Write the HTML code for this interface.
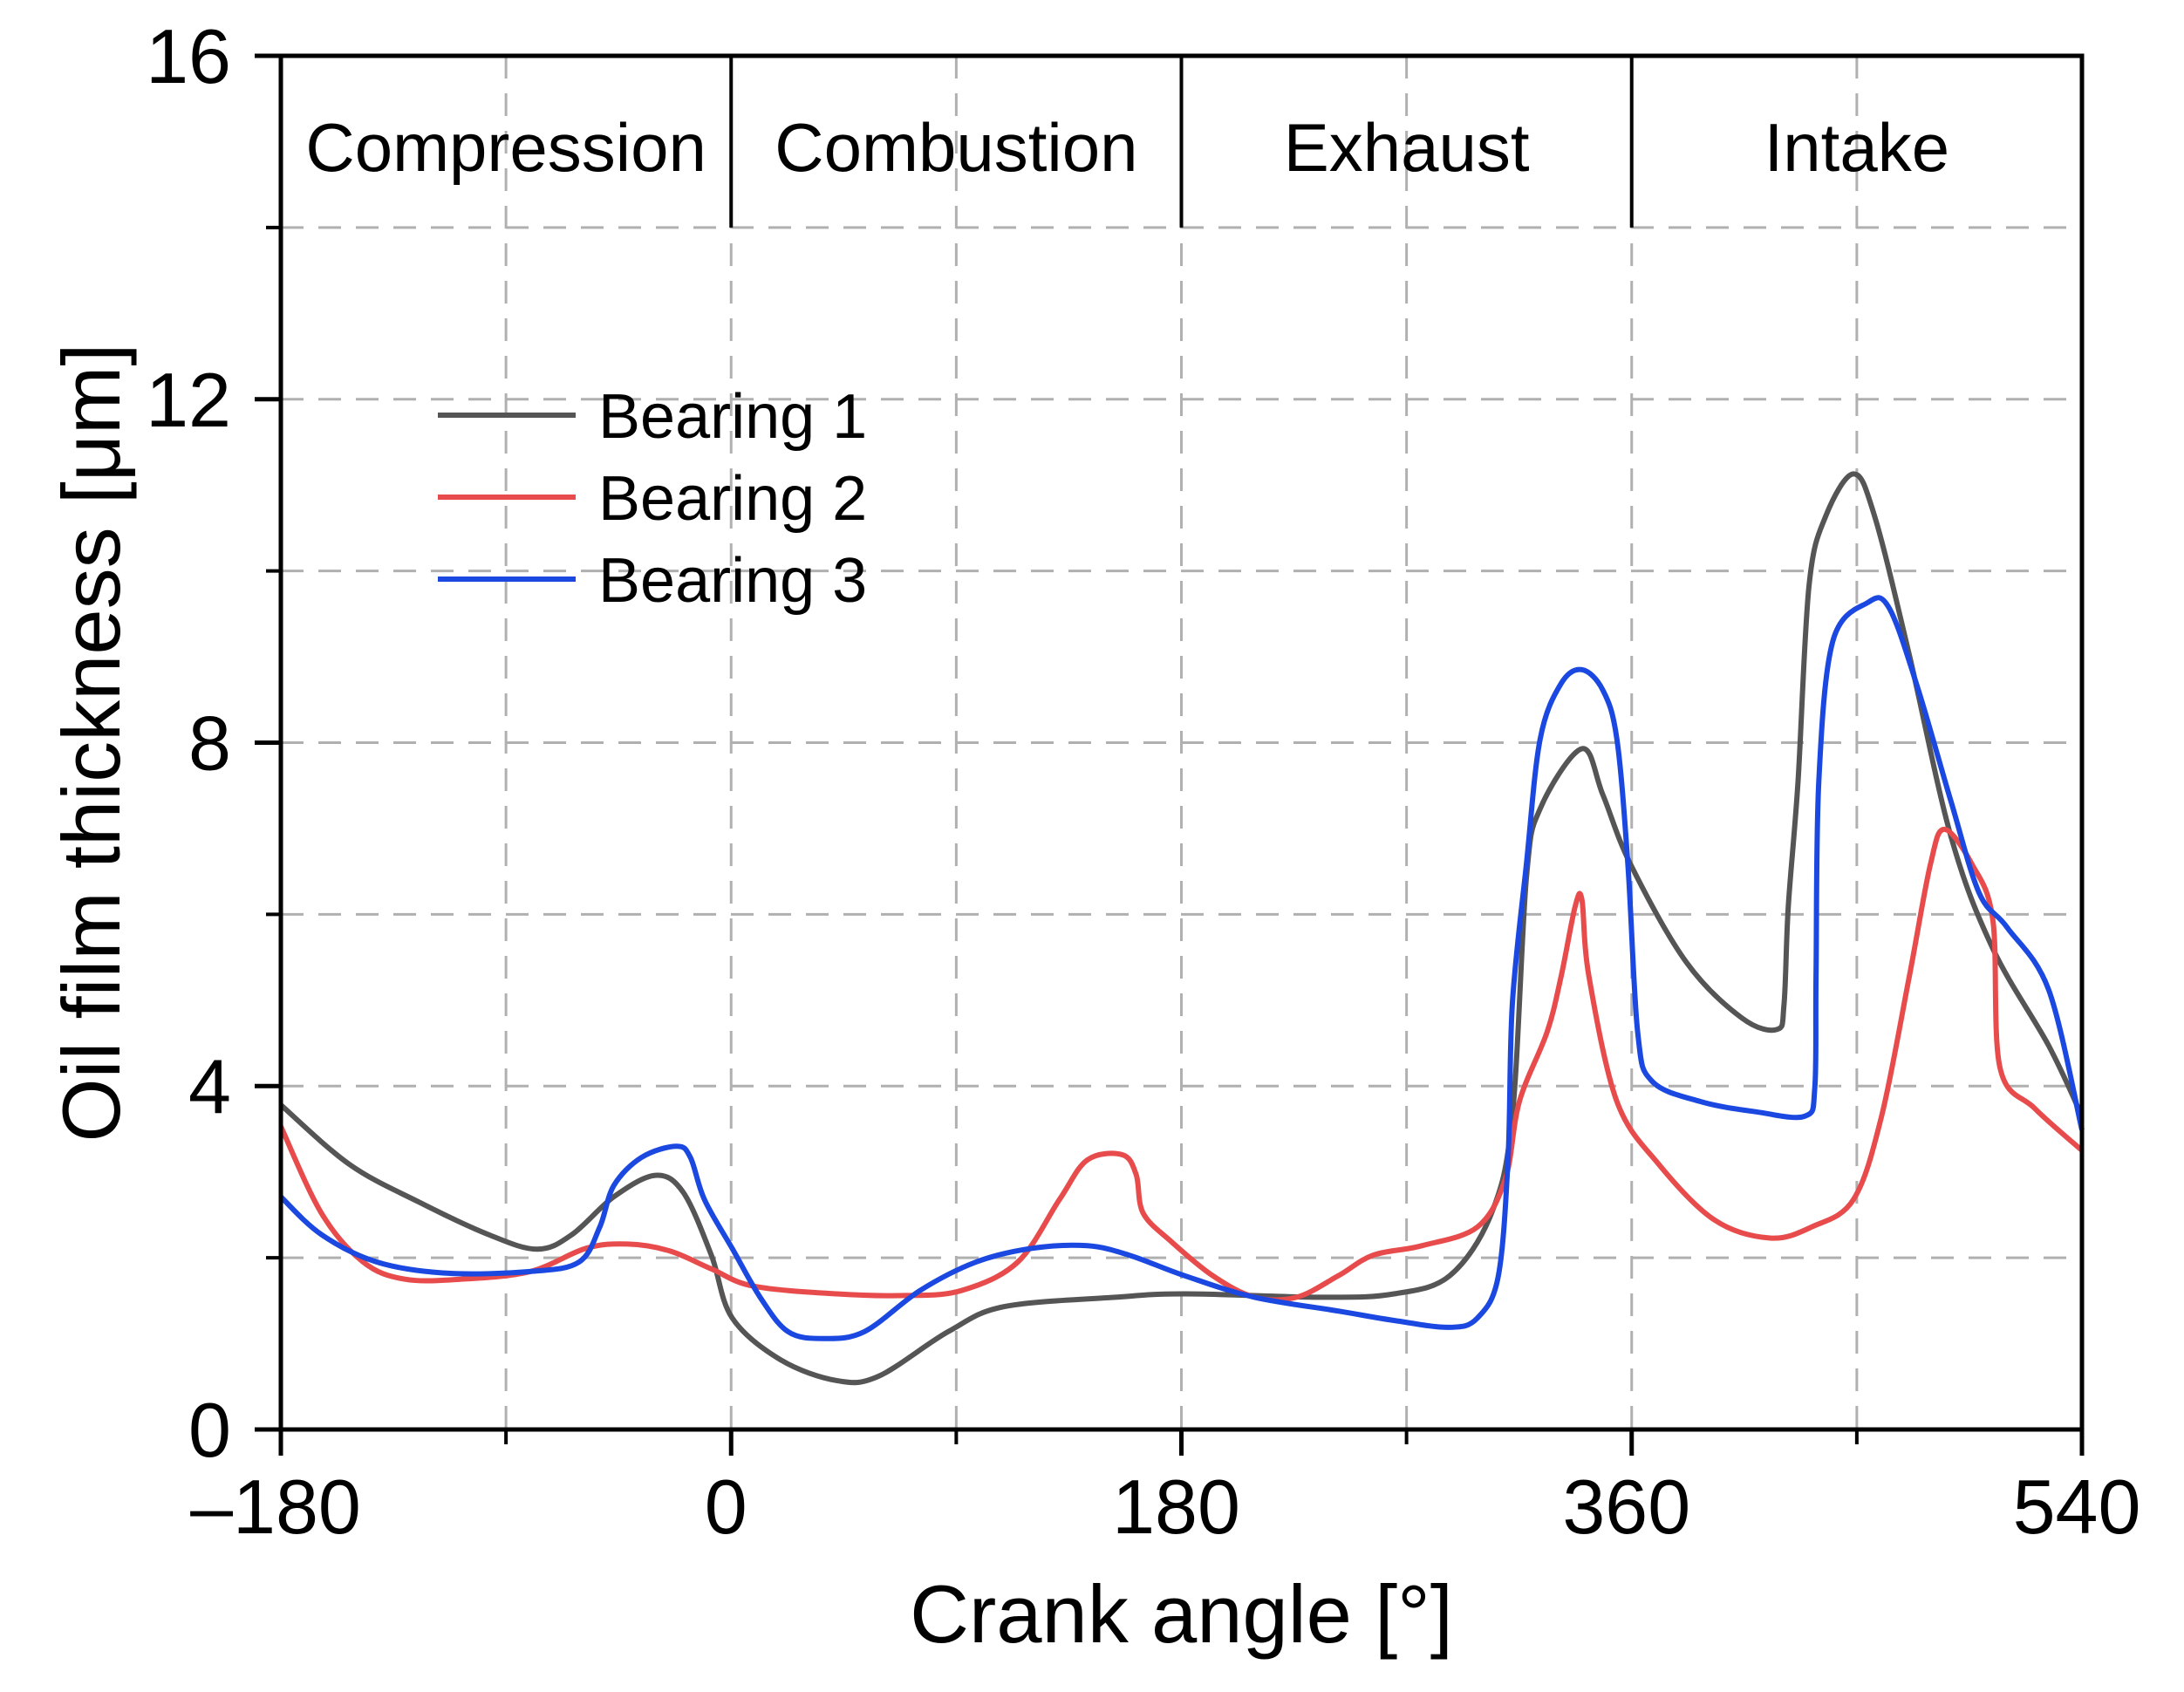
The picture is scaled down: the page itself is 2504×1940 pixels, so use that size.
<!DOCTYPE html>
<html><head><meta charset="utf-8"><style>
html,body{margin:0;padding:0;background:#fff;}
svg{display:block;font-family:"Liberation Sans",Arial,sans-serif;}
</style></head><body>
<svg id="chart" width="2504" height="1940" viewBox="0 0 2504 1940" xmlns="http://www.w3.org/2000/svg">
<g id="grid"></g>
<g id="series"></g>
<g id="axes"></g>
<g id="legend"></g>
</svg>
<script>
const xTicks = [-180, 0, 180, 360, 540];
const xMinorTicks = [-90, 90, 270, 450];
const yTicks = [0, 4, 8, 12, 16];
const yMinorTicks = [2, 6, 10, 14];
const phaseBounds = [0, 180, 360];
const phaseNames = ["Compression", "Combustion", "Exhaust", "Intake"];
const phaseCenters = [-90, 90, 270, 450];

const b1x = [-180,-152.7,-124.9,-97,-77.5,-63.6,-46.9,-30.2,-19.1,-7.9,0.4,19.9,42.2,58.9,86.8,109,153.6,181.4,237.1,265,287.2,304,312.3,317.9,323.4,340.1,348.5,359.6,381.9,404.2,418.1,420.9,422.6,426.5,430.9,437.6,448.7,457.1,471,487.7,504.4,526.7,540];
const b1y = [3.78,3.09,2.65,2.27,2.10,2.27,2.71,2.96,2.76,2.03,1.30,0.81,0.57,0.62,1.14,1.43,1.54,1.58,1.54,1.58,1.79,2.52,3.65,6.42,7.23,7.93,7.39,6.58,5.44,4.79,4.66,4.95,6.09,7.55,9.83,10.64,11.13,10.64,9.02,6.90,5.60,4.47,3.65];

const b2x = [-180,-163.8,-147.1,-130.4,-108.2,-80.3,-58,-41.3,-24.6,-7.9,8.8,42.2,70,92.3,114.6,131.3,142.4,156.4,161.9,164.7,175.9,192.6,209.3,226,242.7,256.6,276.1,298.4,309.5,315.1,326.2,331.8,337.4,340.1,342.9,354.1,370.8,393.1,415.3,432,448.7,459.9,471,479.4,485,496.1,504.4,507.2,521.1,540];
const b2y = [3.53,2.52,1.95,1.75,1.75,1.84,2.11,2.16,2.08,1.87,1.67,1.58,1.56,1.62,1.95,2.68,3.14,3.20,2.97,2.52,2.19,1.79,1.54,1.54,1.79,2.03,2.14,2.36,2.92,3.82,4.63,5.28,6.09,6.17,5.28,3.82,3.09,2.44,2.23,2.36,2.68,3.65,5.28,6.58,6.99,6.58,5.93,4.22,3.74,3.25];

const b3x = [-180,-163.8,-141.6,-113.7,-80.3,-60.8,-52.5,-46.9,-35.8,-21.8,-16.3,-10.7,0.4,11.6,22.7,36.6,53.3,75.6,97.9,120.2,142.4,159.2,181.4,209.3,242.7,265,287.2,298.4,306.7,310.6,312.3,317.9,323.4,331.8,340.1,348.5,354.1,358.5,362.4,368,387.5,409.8,429.3,433.2,433.7,434.8,440.4,454.3,462.7,473.8,487.7,498.9,510,526.7,540];
const b3y = [2.71,2.27,1.95,1.82,1.84,1.95,2.36,2.84,3.17,3.30,3.17,2.68,2.11,1.54,1.14,1.06,1.14,1.62,1.95,2.11,2.14,2.03,1.79,1.54,1.38,1.27,1.19,1.30,1.79,3.17,4.95,6.58,8.04,8.69,8.85,8.61,8.04,6.58,4.63,4.06,3.82,3.70,3.65,3.98,5.28,7.55,9.18,9.63,9.58,8.69,7.31,6.25,5.85,5.12,3.49];

const L=322,R=2387,T=64,B=1639;
const sx = v => L + (v+180)/720*(R-L);
const sy = v => B - v/16*(B-T);
const NS="http://www.w3.org/2000/svg";
function mk(tag, attrs, parent){const e=document.createElementNS(NS,tag);for(const k in attrs)e.setAttribute(k,attrs[k]);parent.appendChild(e);return e;}
const grid=document.getElementById('grid'), axes=document.getElementById('axes'), series=document.getElementById('series'), legend=document.getElementById('legend');

[...yTicks, ...yMinorTicks].forEach(v=>{ if(v===0||v===16) return;
  const g=mk('line',{x1:L,x2:R,y1:sy(v),y2:sy(v),stroke:'#b0b0b0','stroke-width':3,'stroke-dasharray':'26 17'},grid);
  
  
});
[...xTicks, ...xMinorTicks].forEach(v=>{ if(v===-180||v===540) return;
  const g=mk('line',{x1:sx(v),x2:sx(v),y1:T,y2:B,stroke:'#b0b0b0','stroke-width':3,'stroke-dasharray':'26 17'},grid);
  
  
});

function path(xs,ys){
  const p=xs.map((x,i)=>[sx(x),sy(ys[i])]);
  let d=`M${p[0][0].toFixed(1)},${p[0][1].toFixed(1)}`;
  for(let i=0;i<p.length-1;i++){
    const p0=p[Math.max(0,i-1)],p1=p[i],p2=p[i+1],p3=p[Math.min(p.length-1,i+2)];
    const c1=[p1[0]+(p2[0]-p0[0])/6,p1[1]+(p2[1]-p0[1])/6];
    const c2=[p2[0]-(p3[0]-p1[0])/6,p2[1]-(p3[1]-p1[1])/6];
    d+=`C${c1[0].toFixed(1)},${c1[1].toFixed(1)} ${c2[0].toFixed(1)},${c2[1].toFixed(1)} ${p2[0].toFixed(1)},${p2[1].toFixed(1)}`;
  }
  return d;
}
const s1=mk('path',{d:path(b1x,b1y),fill:'none',stroke:'#555555','stroke-width':6,'stroke-linejoin':'round'},series);


const s2=mk('path',{d:path(b2x,b2y),fill:'none',stroke:'#e84b4b','stroke-width':6,'stroke-linejoin':'round'},series);


const s3=mk('path',{d:path(b3x,b3y),fill:'none',stroke:'#1a48e0','stroke-width':6,'stroke-linejoin':'round'},series);



const fr=mk('rect',{x:L,y:T,width:R-L,height:B-T,fill:'none',stroke:'#000','stroke-width':5},axes);


phaseBounds.forEach(v=>{
  const l=mk('line',{x1:sx(v),x2:sx(v),y1:T,y2:sy(14),stroke:'#000','stroke-width':4},axes);
  
  
});
phaseNames.forEach((n,i)=>{
  const t=mk('text',{x:sx(phaseCenters[i]),y:196,'text-anchor':'middle','font-size':78,fill:'#000'},axes);
  t.textContent=n;
  
  
});
xTicks.forEach(v=>{
  const l=mk('line',{x1:sx(v),x2:sx(v),y1:B,y2:B+30,stroke:'#000','stroke-width':5},axes);
  
  
  const t=mk('text',{x:sx(v)-6,y:1758,'text-anchor':'middle','font-size':88,fill:'#000'},axes);
  t.textContent=v<0?'\u2013'+(-v):String(v);
  
  
});
xMinorTicks.forEach(v=>{
  const l=mk('line',{x1:sx(v),x2:sx(v),y1:B,y2:B+17,stroke:'#000','stroke-width':4},axes);
  
  
});
yTicks.forEach(v=>{
  const l=mk('line',{x1:L-30,x2:L,y1:sy(v),y2:sy(v),stroke:'#000','stroke-width':5},axes);
  
  
  const t=mk('text',{x:L-57,y:sy(v)+31,'text-anchor':'end','font-size':88,fill:'#000'},axes);
  t.textContent=String(v);
  
  
});
yMinorTicks.forEach(v=>{
  const l=mk('line',{x1:L-17,x2:L,y1:sy(v),y2:sy(v),stroke:'#000','stroke-width':4},axes);
  
  
});
const xt=mk('text',{x:(L+R)/2,y:1883,'text-anchor':'middle','font-size':94,fill:'#000'},axes);
xt.textContent='Crank angle [°]';


const yt=mk('text',{x:0,y:0,'text-anchor':'middle','font-size':94,fill:'#000',transform:`translate(137,${(T+B)/2}) rotate(-90)`},axes);
yt.textContent='Oil film thickness [μm]';



const legNames=['Bearing 1','Bearing 2','Bearing 3'];
const legColors=['#555555','#e84b4b','#1a48e0'];
legNames.forEach((n,i)=>{
  const y=476+i*94;
  const l=mk('line',{x1:502,x2:660,y1:y,y2:y,stroke:legColors[i],'stroke-width':6},legend);
  
  
  const t=mk('text',{x:686,y:y+26,'font-size':72,fill:'#000'},legend);
  t.textContent=n;
  
  
});
</script>
</body></html>
